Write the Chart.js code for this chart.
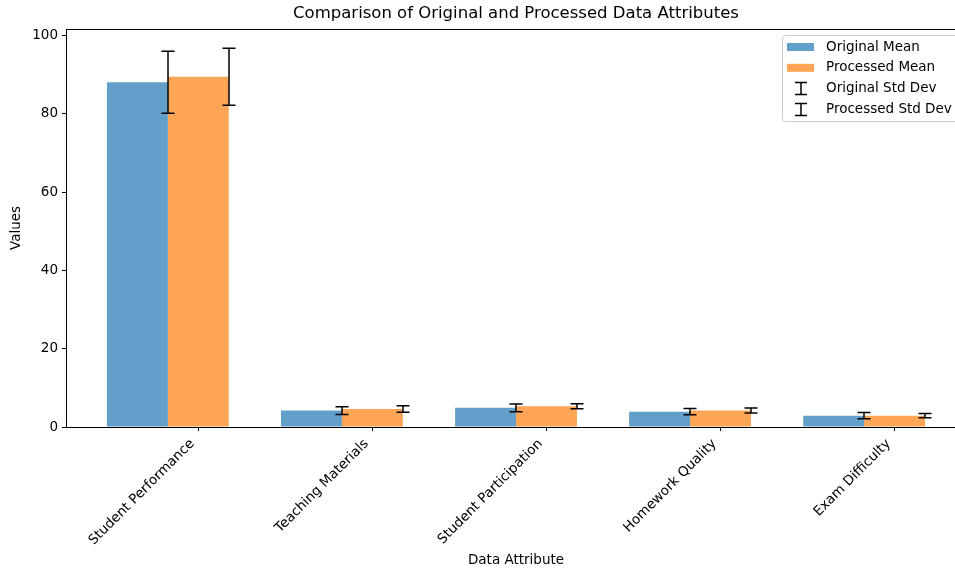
<!DOCTYPE html>
<html lang="en">
<head>
    <meta charset="UTF-8">
    <title>Comparison of Original and Processed Data Attributes</title>
    <script src="https://cdn.jsdelivr.net/npm/chart.js"></script>
    <style>
        html, body { margin: 0; padding: 0; background: #fff; overflow: hidden; }
        #wrap { width: 970px; height: 572px; }
    </style>
</head>
<body>
    <div id="wrap"><canvas id="chart"></canvas></div>

    <script>
        const categories = ['Student Performance', 'Teaching Materials', 'Student Participation', 'Homework Quality', 'Exam Difficulty'];
        const originalMean = [88.1, 4.2, 4.9, 3.9, 2.9];
        const processedMean = [89.5, 4.6, 5.3, 4.2, 2.9];
        const originalStd = [7.9, 1.0, 1.0, 0.8, 0.8];
        const processedStd = [7.3, 0.8, 0.65, 0.65, 0.55];
        const yTicks = [0, 20, 40, 60, 80, 100];

        const font = "'DejaVu Sans', sans-serif";
        const blue = 'rgba(31, 119, 180, 0.7)';
        const orange = 'rgba(255, 127, 14, 0.7)';

        // bars sit on a linear axis; each group is centred 0.175 left of its tick
        const toPoints = vals => vals.map((v, i) => ({ x: i - 0.175, y: v }));

        function drawErrorBar(ctx, px, t, b) {
            ctx.beginPath();
            ctx.moveTo(px, t); ctx.lineTo(px, b);
            ctx.moveTo(px - 6.5, t); ctx.lineTo(px + 6.5, t);
            ctx.moveTo(px - 6.5, b); ctx.lineTo(px + 6.5, b);
            ctx.stroke();
        }

        const overlay = {
            id: 'overlay',
            afterDraw(chart) {
                const { ctx, chartArea: a } = chart;
                const xs = chart.scales.x, ys = chart.scales.y;
                ctx.save();

                // error bars, at the right edge of each bar like the original
                ctx.strokeStyle = '#000';
                ctx.lineWidth = 1.5;
                originalMean.forEach((m, i) => {
                    const px = Math.round(xs.getPixelForValue(i - 0.175));
                    drawErrorBar(ctx, px, ys.getPixelForValue(m + originalStd[i]), ys.getPixelForValue(m - originalStd[i]));
                });
                processedMean.forEach((m, i) => {
                    const px = Math.round(xs.getPixelForValue(i + 0.175));
                    drawErrorBar(ctx, px, ys.getPixelForValue(m + processedStd[i]), ys.getPixelForValue(m - processedStd[i]));
                });

                // axes frame
                ctx.lineWidth = 1;
                ctx.strokeRect(Math.round(a.left) + 0.5, Math.round(a.top) + 0.5,
                    Math.round(a.right - a.left), Math.round(a.bottom - a.top));

                // title
                ctx.fillStyle = '#000';
                ctx.font = `16.5px ${font}`;
                ctx.textAlign = 'center';
                ctx.textBaseline = 'middle';
                ctx.fillText('Comparison of Original and Processed Data Attributes', (a.left + a.right) / 2, 14);

                // legend
                const lx = 782.5, ly = 35.5, lw = a.right - 7 - lx, lh = 86;
                ctx.beginPath();
                ctx.roundRect(lx, ly, lw, lh, 3);
                ctx.fillStyle = 'rgba(255,255,255,0.8)';
                ctx.fill();
                ctx.strokeStyle = '#cccccc';
                ctx.stroke();

                const rows = [
                    { label: 'Original Mean', color: blue },
                    { label: 'Processed Mean', color: orange },
                    { label: 'Original Std Dev' },
                    { label: 'Processed Std Dev' }
                ];
                ctx.font = `13.5px ${font}`;
                ctx.textAlign = 'left';
                rows.forEach((r, k) => {
                    const cy = 47 + k * 20.8;
                    if (r.color) {
                        ctx.fillStyle = r.color;
                        ctx.fillRect(787, cy - 4, 27, 8);
                    } else {
                        ctx.strokeStyle = '#000';
                        ctx.lineWidth = 1.5;
                        ctx.beginPath();
                        ctx.moveTo(801, cy - 6); ctx.lineTo(801, cy + 6);
                        ctx.moveTo(795, cy - 6); ctx.lineTo(807, cy - 6);
                        ctx.moveTo(795, cy + 6); ctx.lineTo(807, cy + 6);
                        ctx.stroke();
                    }
                    ctx.fillStyle = '#000';
                    ctx.fillText(r.label, 826, cy);
                });
                ctx.restore();
            }
        };

        new Chart(document.getElementById('chart'), {
            type: 'bar',
            data: {
                datasets: [
                    { label: 'Original Mean', data: toPoints(originalMean), backgroundColor: blue },
                    { label: 'Processed Mean', data: toPoints(processedMean), backgroundColor: orange }
                ]
            },
            options: {
                responsive: true,
                maintainAspectRatio: false,
                animation: false,
                categoryPercentage: 0.7,
                barPercentage: 1.0,
                layout: { padding: { top: 29, right: 4, left: 0, bottom: 0 } },
                plugins: {
                    legend: { display: false },
                    title: { display: false },
                    tooltip: { enabled: false }
                },
                scales: {
                    x: {
                        type: 'linear',
                        offset: false,
                        min: -0.76,
                        max: 4.41,
                        afterBuildTicks: s => { s.ticks = categories.map((c, i) => ({ value: i })); },
                        afterFit: s => { s.height = 145; },
                        grid: { display: true, offset: false, drawOnChartArea: false, drawTicks: true, tickLength: 4, color: '#000' },
                        border: { display: false },
                        ticks: {
                            minRotation: 45,
                            maxRotation: 45,
                            labelOffset: -6,
                            padding: 5,
                            color: '#000',
                            font: { family: font, size: 13.5 },
                            callback: v => categories[v]
                        },
                        title: {
                            display: true,
                            text: 'Data Attribute',
                            color: '#000',
                            font: { family: font, size: 13.5 },
                            padding: { top: 0, bottom: 3 }
                        }
                    },
                    y: {
                        min: 0,
                        max: 101.7,
                        afterBuildTicks: s => { s.ticks = yTicks.map(v => ({ value: v })); },
                        afterFit: s => { s.width = 66; },
                        grid: { display: true, drawOnChartArea: false, drawTicks: true, tickLength: 4, color: '#000' },
                        border: { display: false },
                        ticks: {
                            padding: 4,
                            color: '#000',
                            font: { family: font, size: 13.5 },
                            callback: v => v
                        },
                        title: {
                            display: true,
                            text: 'Values',
                            color: '#000',
                            font: { family: font, size: 13.5 },
                            padding: { top: 8, bottom: 0 }
                        }
                    }
                }
            },
            plugins: [overlay]
        });
    </script>
</body>
</html>
